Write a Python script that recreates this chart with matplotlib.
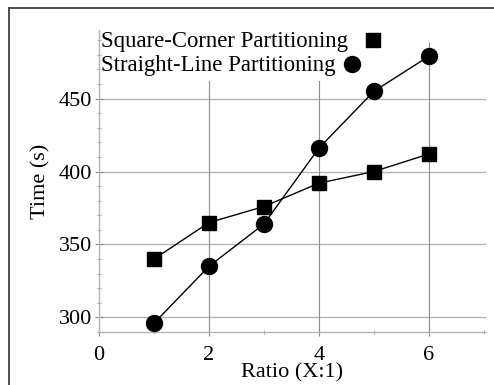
import matplotlib
matplotlib.use('Agg')
import matplotlib.pyplot as plt
from matplotlib.lines import Line2D
from matplotlib.patches import Rectangle

plt.rcParams['font.family'] = ['Liberation Serif', 'DejaVu Serif']

# data
ratio = [1, 2, 3, 4, 5, 6]
square_corner = [340, 365, 376, 392, 400, 412]
straight_line = [296, 335, 364, 416, 455, 479]
labels = ['Square-Corner Partitioning', 'Straight-Line Partitioning']

fig = plt.figure(figsize=(4.94, 3.85), dpi=100)
ax = fig.add_axes([0.2004, 0.1377, 0.7834, 0.7843])

grid_c = '#b4b4b4'
# grid lines (vertical ones stop below the top, as in the reference)
for yv in [300, 350, 400, 450]:
    ax.axhline(yv, color=grid_c, lw=1.0, zorder=0)
ax.vlines([2, 4, 6], 290, 489, color='#8c8c8c', lw=0.8, zorder=0)

ax.plot(ratio, square_corner, color='black', lw=1.0, marker='s', ms=10.5,
        zorder=3)
ax.plot(ratio, straight_line, color='black', lw=1.0, marker='o', ms=11.5,
        zorder=3)

ax.set_xlim(0, 7.04)
ax.set_ylim(290, 497)
ax.set_xticks([0, 2, 4, 6])
ax.set_xticks([1, 3, 5, 7], minor=True)
ax.set_yticks([300, 350, 400, 450])
ax.set_yticks(range(290, 500, 10), minor=True)

for s in ['top', 'right']:
    ax.spines[s].set_visible(False)
for s in ['left', 'bottom']:
    ax.spines[s].set_color(grid_c)
    ax.spines[s].set_linewidth(1.0)

ax.tick_params(which='major', direction='inout', length=6, width=0.8,
               color='#888888', labelsize=16)
ax.tick_params(axis='x', which='major', pad=7)
ax.tick_params(axis='y', which='major', pad=2)
ax.tick_params(which='minor', direction='inout', length=3, width=0.6,
               color='#999999')

ax.set_xlabel('Ratio (X:1)', fontsize=16, labelpad=-1)
ax.set_ylabel('Time (s)', fontsize=16, labelpad=6)

# legend block: white background, text first, marker after
ax.add_patch(Rectangle((0.005, 0.83), 0.74, 0.2, transform=ax.transAxes,
                       facecolor='white', edgecolor='none', zorder=1,
                       clip_on=False))
ax.text(0.005, 0.963, labels[0], transform=ax.transAxes, fontsize=16.4,
        ha='left', va='center', zorder=4)
ax.text(0.005, 0.884, labels[1], transform=ax.transAxes, fontsize=16.4,
        ha='left', va='center', zorder=4)
ax.plot([0.708], [0.968], transform=ax.transAxes, marker='s', ms=10,
        color='black', clip_on=False, zorder=4)
ax.plot([0.654], [0.889], transform=ax.transAxes, marker='o', ms=11.5,
        color='black', clip_on=False, zorder=4)

# outer frame (left and top edges visible)
fig.add_artist(Line2D([9 / 494, 9 / 494], [0, 1 - 8 / 385],
                      transform=fig.transFigure, color='#404040', lw=1.3))
fig.add_artist(Line2D([9 / 494, 1], [1 - 8 / 385, 1 - 8 / 385],
                      transform=fig.transFigure, color='#404040', lw=1.3))

fig.savefig('out.png', dpi=100)
